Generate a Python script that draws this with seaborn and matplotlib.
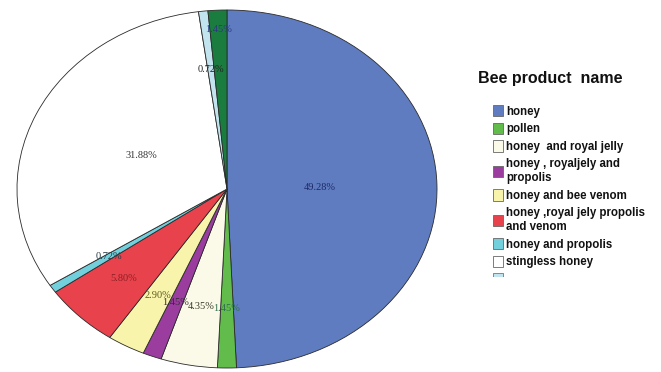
import matplotlib
matplotlib.use("Agg")
import matplotlib.pyplot as plt
from matplotlib.transforms import Bbox, TransformedBbox
import numpy as np
import seaborn as sns

sns.set_theme(style="white")
plt.rcParams["font.family"] = ["Liberation Sans", "DejaVu Sans"]

# Share of each bee product (percent of respondents)
products = [
    "honey",
    "pollen",
    "honey  and royal jelly",
    "honey , royaljely and\npropolis",
    "honey and bee venom",
    "honey ,royal jely propolis\nand venom",
    "honey and propolis",
    "stingless honey",
    "",
    "",
]
shares = [49.28, 1.45, 4.35, 1.45, 2.90, 5.80, 0.72, 31.88, 0.72, 1.45]
colors = ["#5F7CC0", "#62BC4C", "#FBFAE9", "#9A3D9E", "#F8F4AC",
          "#E8434C", "#72D0DC", "#FFFFFF", "#C2E4EF", "#1B7C40"]
label_colors = ["#1E2A66", "#2E6E4E", "#3A3A2A", "#3A2A3A", "#5E5A1E",
                "#8E1E24", "#2A3A44", "#333333", "#222222", "#2B3A80"]
label_dist = [0.44, 0.665, 0.67, 0.68, 0.68, 0.70, 0.68, 0.45, 0.67, 0.89]
legend_count = 9

W, H = 661, 372
fig = plt.figure(figsize=(W / 100, H / 100), dpi=100)
fig.patch.set_facecolor("white")
ax = fig.add_axes([17 / W, 4 / H, 420 / W, 358 / H])

wedges, _ = ax.pie(
    shares, colors=colors, startangle=90, counterclock=False,
    radius=1.0, center=(0, 0),
    wedgeprops=dict(edgecolor="#2a2a2a", linewidth=0.6),
)
ax.set_aspect("auto")
ax.set_xlim(-1, 1)
ax.set_ylim(-1, 1)
ax.axis("off")

# Percentage labels placed along each wedge's mid angle
for w, val, d, c in zip(wedges, shares, label_dist, label_colors):
    mid = np.deg2rad((w.theta1 + w.theta2) / 2)
    ax.text(d * np.cos(mid), d * np.sin(mid), f"{val:.2f}%",
            ha="center", va="center", fontsize=7.5, color=c,
            family=["Liberation Serif", "DejaVu Serif"])

fig.text(478 / W, 1 - 78 / H, "Bee product  name", ha="left", va="center",
         fontsize=11.5, fontweight="bold", color="#111111")

leg = fig.legend(
    wedges[:legend_count], products[:legend_count],
    loc="upper left", bbox_to_anchor=(493 / W, 1 - 105 / H),
    frameon=False, prop=dict(weight="bold", size=8.3),
    handlelength=0.87, handleheight=1.13, handletextpad=0.3,
    labelspacing=0.45, borderpad=0, borderaxespad=0,
)
for t in leg.get_texts():
    t.set_color("#111111")
# the legend box is cut off at its lower edge
cut = TransformedBbox(Bbox([[0, (H - 277) / H], [1, 1]]), fig.transFigure)
for h in leg.legend_handles:
    h.set_linewidth(0.6)
    h.set_edgecolor("#666666")
    h.set_clip_box(cut)
    h.set_clip_on(True)
leg.legend_handles[-1].set_edgecolor("#3E8C96")

fig.savefig("out.png", dpi=100, facecolor="white")
